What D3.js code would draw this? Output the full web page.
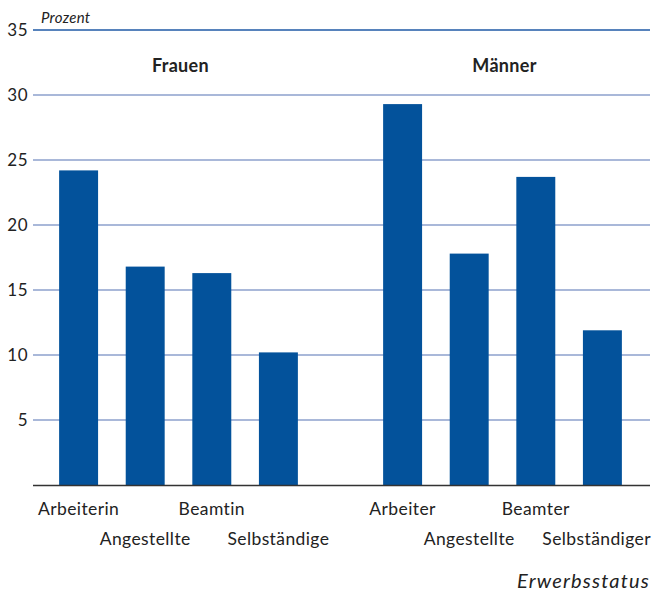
<!DOCTYPE html>
<html>
<head>
<meta charset="utf-8">
<script src="https://cdn.jsdelivr.net/npm/d3@7"></script>
<style>
  body { margin: 0; background: #fff; }
  svg text { font-family: Lato, "Open Sans", sans-serif; fill: #222; font-variant-ligatures: none; }
</style>
</head>
<body>
<svg></svg>
<script>
var width = 654;
var height = 592;

// data
var groups = ["Frauen", "Männer"];
var frauenLabels = ["Arbeiterin", "Angestellte", "Beamtin", "Selbständige"];
var maennerLabels = ["Arbeiter", "Angestellte", "Beamter", "Selbständiger"];
var frauenValues = [24.2, 16.8, 16.3, 10.2];
var maennerValues = [29.3, 17.8, 23.7, 11.9];
var yTicks = [5, 10, 15, 20, 25, 30, 35];

var labels = [frauenLabels, maennerLabels];
var values = [frauenValues, maennerValues];

var svg = d3.select('svg')
    .attr('width', width)
    .attr('height', height);

var y = d3.scaleLinear().domain([0, 35]).range([485, 30]);

var xGroup = d3.scaleBand().domain(groups).range([16.5, 664.5]);
var xInner = d3.scaleBand().domain([0, 1, 2, 3])
    .range([0, xGroup.bandwidth()])
    .paddingInner(0.415)
    .paddingOuter(0.64);

// gridlines
svg.selectAll('line.grid')
    .data(yTicks)
    .enter()
    .append('line')
    .attr('class', 'grid')
    .attr('x1', 33).attr('x2', 650)
    .attr('y1', d => y(d)).attr('y2', d => y(d))
    .attr('stroke', d => d === 35 ? '#1f5aa6' : '#8da0cc')
    .attr('stroke-width', 1.5);

// tick labels
svg.selectAll('text.tick')
    .data(yTicks)
    .enter()
    .append('text')
    .attr('class', 'tick')
    .attr('x', 28)
    .attr('y', d => y(d))
    .attr('dy', '0.35em')
    .attr('text-anchor', 'end')
    .style('font-size', '17px')
    .style('letter-spacing', '0.5px')
    .text(d => d);

svg.append('text')
    .attr('x', 41).attr('y', 23)
    .style('font-size', '15px')
    .style('font-style', 'italic')
    .style('letter-spacing', '0.3px')
    .text('Prozent');

// bars
groups.forEach(function (g, gi) {
    var gx = xGroup(g);
    var rows = values[gi].map((v, i) => ({ i: i, v: v, label: labels[gi][i] }));

    svg.selectAll('rect.bar' + gi)
        .data(rows)
        .enter()
        .append('rect')
        .attr('x', d => gx + xInner(d.i))
        .attr('y', d => y(d.v))
        .attr('width', xInner.bandwidth())
        .attr('height', d => y(0) - y(d.v))
        .attr('fill', '#03529b');

    svg.selectAll('text.cat' + gi)
        .data(rows)
        .enter()
        .append('text')
        .attr('x', d => gx + xInner(d.i) + xInner.bandwidth() / 2)
        .attr('y', d => d.i % 2 === 0 ? 515 : 545)
        .attr('text-anchor', 'middle')
        .style('font-size', '17.5px')
        .style('letter-spacing', '0.4px')
        .text(d => d.label)
        .each(function () {
            // keep labels inside the right edge
            var w = this.getComputedTextLength();
            var cx = +this.getAttribute('x');
            if (cx + w / 2 > 651) this.setAttribute('x', 651 - w / 2);
        });

    svg.append('text')
        .attr('x', gx + xGroup.bandwidth() / 2 + 2)
        .attr('y', 72)
        .attr('text-anchor', 'middle')
        .style('font-size', '18px')
        .style('font-weight', 'bold')
        .style('letter-spacing', '0.3px')
        .text(g);
});

// baseline
svg.append('line')
    .attr('x1', 33).attr('x2', 650)
    .attr('y1', y(0) + 0.5).attr('y2', y(0) + 0.5)
    .attr('stroke', '#333')
    .attr('stroke-width', 1.5);

svg.append('text')
    .attr('x', 650).attr('y', 588)
    .attr('text-anchor', 'end')
    .style('font-size', '20px')
    .style('font-style', 'italic')
    .style('letter-spacing', '1.2px')
    .text('Erwerbsstatus');
</script>
</body>
</html>
